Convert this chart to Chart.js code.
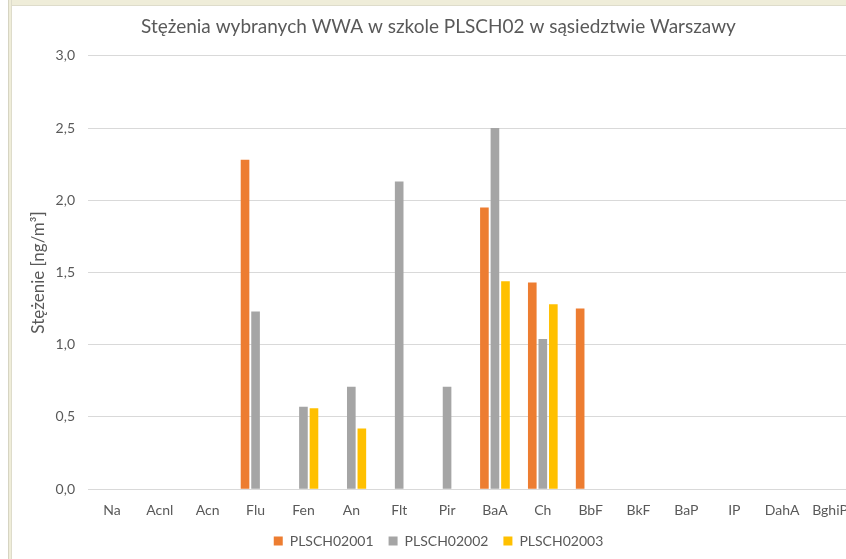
<!DOCTYPE html>
<html>
<head>
<meta charset="utf-8">
<script src="https://cdn.jsdelivr.net/npm/chart.js@4"></script>
<style>
  html, body { margin: 0; padding: 0; background: #fff; overflow: hidden; width: 846px; height: 559px; }
  #frameTop { position: absolute; left: 8px; top: 0; width: 838px; height: 5px; background: #EFEDD9; border-bottom: 1px solid #DEDCCB; }
  #frameLeft { position: absolute; left: 8px; top: 0; width: 2px; height: 559px; background: #EFEDD9; border-left: 1px solid #D6D4C2; border-right: 1px solid #DEDCCB; }
  #wrap { position: absolute; left: 11px; top: 6px; }
</style>
</head>
<body>
<div id="frameTop"></div>
<div id="frameLeft"></div>
<div id="wrap"><canvas id="chart" width="860" height="553"></canvas></div>
<script>
// compounds (x axis)
var categories = ['Na', 'Acnl', 'Acn', 'Flu', 'Fen', 'An', 'Flt', 'Pir', 'BaA', 'Ch', 'BbF', 'BkF', 'BaP', 'IP', 'DahA', 'BghiP'];

// concentrations [ng/m3] per sample
var plsch02001 = [null, null, null, 2.28, null, null, null, null, 1.95, 1.43, 1.25, null, null, null, null, null];
var plsch02002 = [null, null, null, 1.23, 0.57, 0.71, 2.13, 0.71, 2.50, 1.04, null, null, null, null, null, null];
var plsch02003 = [null, null, null, null, 0.56, 0.42, null, null, 1.44, 1.28, null, null, null, null, null, null];

var seriesNames = ['PLSCH02001', 'PLSCH02002', 'PLSCH02003'];
var seriesColors = ['#ED7D31', '#A5A5A5', '#FFC000'];

var yTicks = [0, 0.5, 1, 1.5, 2, 2.5, 3];

var textColor = '#595959';
var fontFam = 'Lato, "Open Sans", sans-serif';

var ctx = document.getElementById('chart').getContext('2d');
var chart = new Chart(ctx, {
    type: 'bar',
    data: {
        labels: categories,
        datasets: [plsch02001, plsch02002, plsch02003].map(function (vals, i) {
            return {
                label: seriesNames[i],
                data: vals,
                backgroundColor: seriesColors[i],
                borderWidth: 0,
                categoryPercentage: 0.66,
                barPercentage: 0.82
            };
        })
    },
    options: {
        responsive: false,
        animation: false,
        layout: { padding: { left: 12, right: 17, top: 0, bottom: 1 } },
        plugins: {
            title: {
                display: true,
                text: 'Stężenia wybranych WWA w szkole PLSCH02 w sąsiedztwie Warszawy',
                color: textColor,
                font: { family: fontFam, size: 19, weight: 'normal' },
                padding: { top: 9, bottom: 18 }
            },
            legend: {
                display: true,
                position: 'bottom',
                labels: {
                    color: textColor,
                    font: { family: fontFam, size: 14 },
                    boxWidth: 9,
                    boxHeight: 9,
                    padding: 15
                }
            },
            tooltip: { enabled: false }
        },
        scales: {
            x: {
                afterFit: function (scale) { scale.height = scale.height - 13; },
                grid: { display: false, drawTicks: false },
                border: { color: '#D9D9D9' },
                ticks: { color: textColor, font: { family: fontFam, size: 14 }, padding: 13, autoSkip: false, maxRotation: 0 }
            },
            y: {
                min: 0,
                max: 3,
                afterFit: function (scale) { scale.width = 65; },
                afterBuildTicks: function (scale) {
                    scale.ticks = yTicks.map(function (v) { return { value: v }; });
                },
                grid: { color: '#D9D9D9', drawTicks: false },
                border: { display: false },
                ticks: {
                    color: textColor,
                    font: { family: fontFam, size: 14 },
                    padding: 13,
                    callback: function (v) { return v.toFixed(1).replace('.', ','); }
                },
                title: {
                    display: true,
                    text: 'Stężenie [ng/m³]',
                    color: textColor,
                    font: { family: fontFam, size: 17 },
                    padding: { top: 5, bottom: 0 }
                }
            }
        }
    }
});
</script>
</body>
</html>
